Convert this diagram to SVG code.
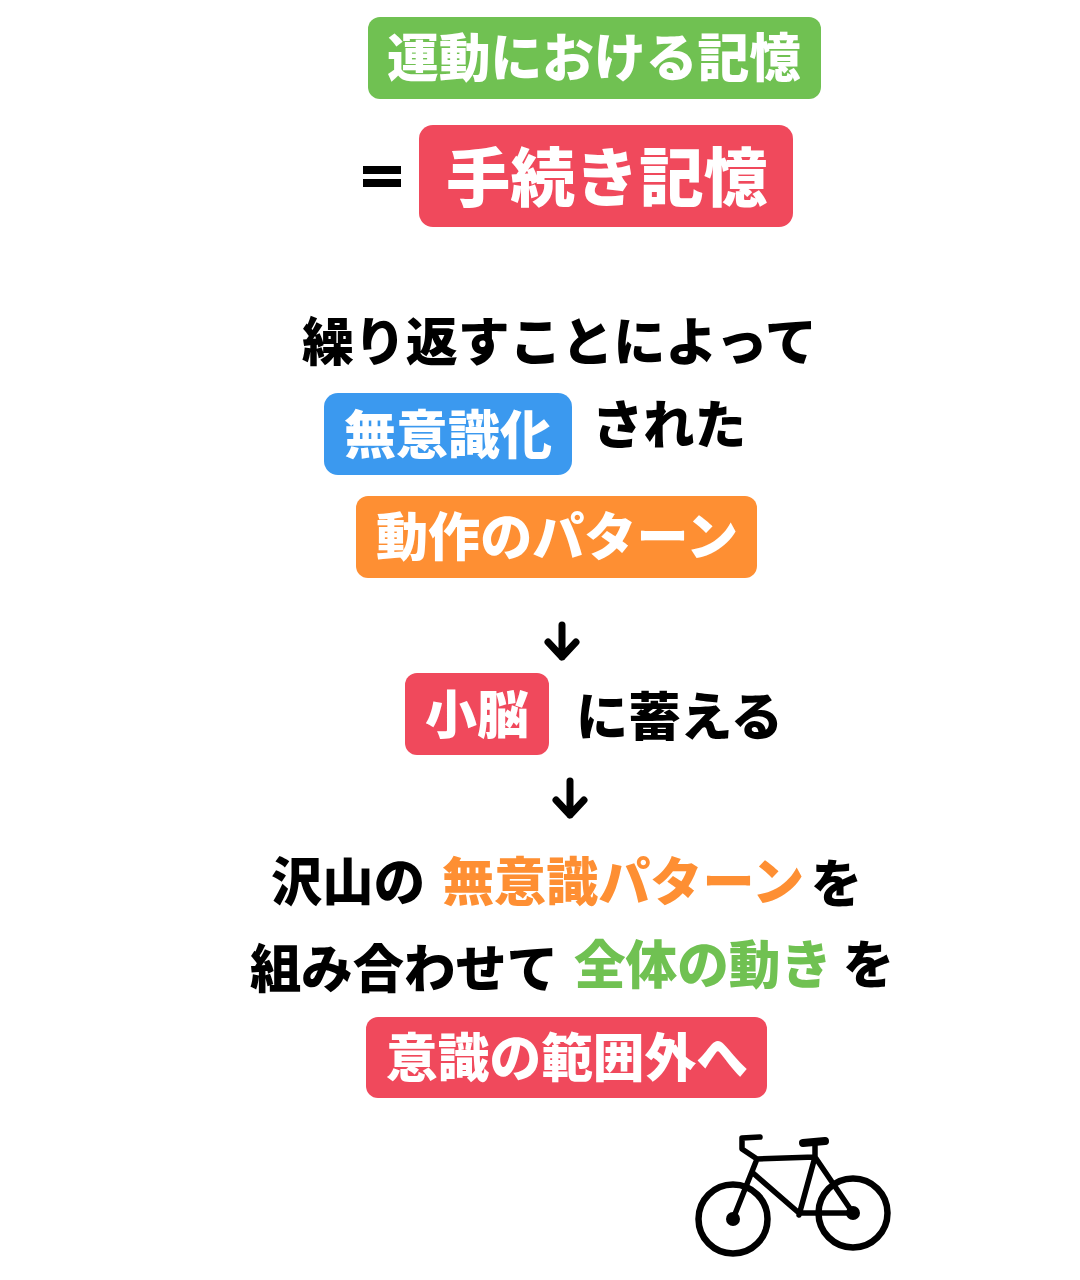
<svg xmlns="http://www.w3.org/2000/svg" width="1080" height="1280" viewBox="0 0 1080 1280">
<style>
text{font-family:"Noto Sans CJK JP","Noto Sans CJK SC",sans-serif;font-weight:900;font-size:52px}
.w{fill:#fff}.k{fill:#000}.o{fill:#fe8f33}.g{fill:#70c152}
.line{fill:none;stroke:#000;stroke-linecap:round;stroke-linejoin:round}
</style>
<rect width="1080" height="1280" fill="#fff"/>
<g id="title"><rect x="368" y="17" width="453" height="82" rx="12" fill="#70c152"/><text class="w" x="387" y="77" textLength="414" lengthAdjust="spacingAndGlyphs">運動における記憶</text></g>
<g id="equals"><rect x="363" y="166" width="38" height="8" fill="#000"/><rect x="363" y="179" width="38" height="8" fill="#000"/></g>
<g id="procedural"><rect x="419" y="125" width="374" height="102" rx="14" fill="#f0495c"/><text class="w" x="446" y="201" style="font-size:64px" textLength="322" lengthAdjust="spacingAndGlyphs">手続き記憶</text></g>
<g id="repeat"><text class="k" x="302" y="361" textLength="515" lengthAdjust="spacingAndGlyphs">繰り返すことによって</text></g>
<g id="unconscious"><rect x="324" y="393" width="248" height="82" rx="14" fill="#3b99ef"/><text class="w" x="344" y="454" textLength="208" lengthAdjust="spacingAndGlyphs">無意識化</text></g>
<g id="sareta"><text class="k" x="592" y="444" textLength="154" lengthAdjust="spacingAndGlyphs">された</text></g>
<g id="pattern"><rect x="356" y="496" width="401" height="82" rx="12" fill="#fe8f33"/><text class="w" x="376" y="556" textLength="362" lengthAdjust="spacingAndGlyphs">動作のパターン</text></g>
<g id="cerebellum"><rect x="405" y="673" width="144" height="82" rx="12" fill="#f0495c"/><text class="w" x="425" y="734" textLength="104" lengthAdjust="spacingAndGlyphs">小脳</text></g>
<g id="store"><text class="k" x="576" y="736" textLength="207" lengthAdjust="spacingAndGlyphs">に蓄える</text></g>
<g id="connectors">
<path class="line" stroke-width="7" d="M562 625V657M548 642L562 657L576 642"/>
<path class="line" stroke-width="7" d="M570 781V815M556 800L570 815L584 800"/>
</g>
<g id="line-many"><text class="k" x="271" y="901" textLength="154" lengthAdjust="spacingAndGlyphs">沢山の</text><text class="o" x="442" y="901" textLength="362" lengthAdjust="spacingAndGlyphs">無意識パターン</text><text class="k" x="811" y="903" textLength="51" lengthAdjust="spacingAndGlyphs">を</text></g>
<g id="line-combine"><text class="k" x="250" y="988" textLength="308" lengthAdjust="spacingAndGlyphs">組み合わせて</text><text class="g" x="574" y="984" textLength="258" lengthAdjust="spacingAndGlyphs">全体の動き</text><text class="k" x="843" y="984" textLength="51" lengthAdjust="spacingAndGlyphs">を</text></g>
<g id="outside"><rect x="366" y="1017" width="401" height="81" rx="12" fill="#f0495c"/><text class="w" x="386" y="1077" textLength="362" lengthAdjust="spacingAndGlyphs">意識の範囲外へ</text></g>
<g id="bicycle">
<circle class="line" cx="733" cy="1219" r="34.5" stroke-width="6.5"/>
<circle class="line" cx="853" cy="1213" r="34.5" stroke-width="6.5"/>
<circle cx="733" cy="1219" r="7" fill="#000"/>
<circle cx="853" cy="1213" r="7" fill="#000"/>
<path class="line" stroke-width="5.5" d="M733 1219L757 1159L815 1157L853 1213H799L753 1173M799 1215L815 1157V1143M757 1159L742 1149V1138L760 1137"/>
<path class="line" stroke-width="8" d="M803 1143L825 1141"/>
</g>
</svg>
